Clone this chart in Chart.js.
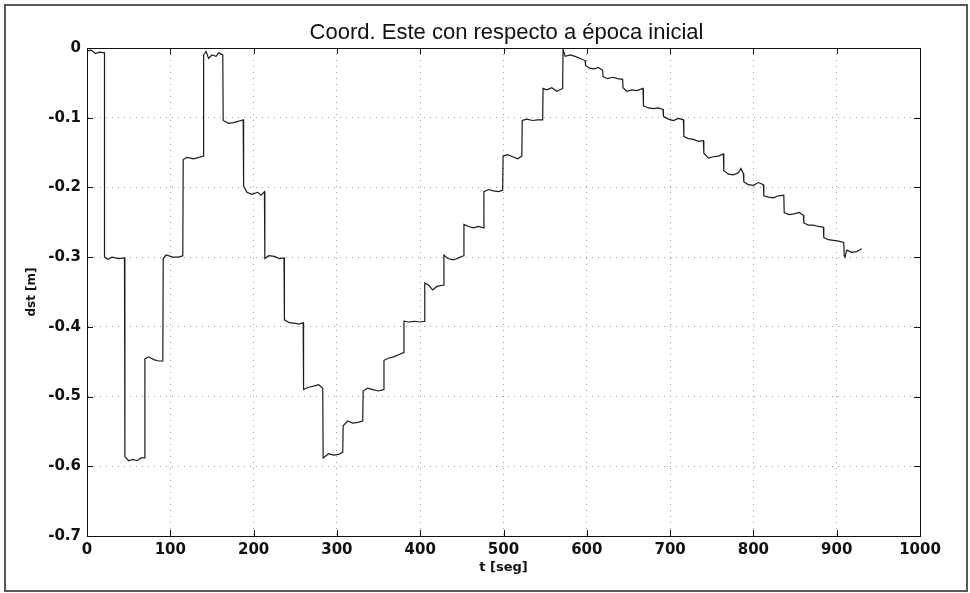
<!DOCTYPE html>
<html lang="es">
<head>
  <meta charset="UTF-8" />
  <title>Coord. Este con respecto a época inicial</title>
  <script src="https://cdn.jsdelivr.net/npm/chart.js@4.4.0/dist/chart.umd.min.js"></script>
  <style>
    * { margin: 0; padding: 0; box-sizing: border-box; }
    body { background: #ffffff; width: 970px; height: 593px; overflow: hidden; }
  </style>
</head>
<body>
  <canvas id="chart" width="970" height="593"></canvas>

  <script>
    // Labels
    const chartTitle = 'Coord. Este con respecto a época inicial';
    const xLabel = 't [seg]';
    const yLabel = 'dst [m]';

    // Tick values
    const xTicks = [0, 100, 200, 300, 400, 500, 600, 700, 800, 900, 1000];
    const yTicks = [0, -0.1, -0.2, -0.3, -0.4, -0.5, -0.6, -0.7];

    // Series: time (s) and east offset (m), one line per step
    const tSeg = [
      0, 5, 10, 15, 21,
      21, 25, 30, 38, 45,
      45.5, 50, 55, 60, 65, 69,
      69.5, 74, 80, 86, 91,
      91.5, 95, 103, 110, 115,
      115.5, 120, 128, 134, 139.5,
      140, 143, 146, 150, 155, 158, 163,
      163.5, 170, 176, 182, 187.5,
      188, 192, 198, 205, 209, 213,
      213.5, 218, 225, 231, 236.5,
      237, 243, 250, 255, 259.5,
      260, 265, 272, 278, 283,
      283.5, 290, 296, 302, 307,
      307.5, 313, 319, 325, 331,
      331.5, 337, 343, 350, 356,
      356.5, 362, 368, 374, 380,
      380.5, 386, 393, 399, 405,
      405.5, 410, 415, 420, 428,
      428.5, 433, 440, 446, 452,
      452.5, 458, 464, 470, 476,
      476.5, 482, 488, 494, 499,
      499.5, 505, 511, 517, 522,
      522.5, 528, 535, 541, 547,
      547.5, 552, 558, 564, 571,
      571.5, 574, 580, 586, 592, 598,
      598.5, 603, 609, 614, 619,
      619.5, 625, 631, 637, 643,
      643.5, 648, 654, 660, 667.5,
      668, 674, 680, 686, 691.5,
      692, 698, 704, 710, 716,
      716.5, 722, 728, 734, 740,
      740.5, 746, 752, 758, 764,
      764.5, 770, 776, 782, 785, 788,
      788.5, 794, 800, 806, 812,
      812.5, 818, 824, 830, 836.5,
      837, 843, 849, 855, 860,
      860.5, 866, 872, 878, 884,
      884.5, 890, 896, 902, 908.5,
      909, 910, 912, 918, 924, 930
    ];
    const dist = [
      -0.004, -0.003, -0.008, -0.006, -0.007,
      -0.300, -0.303, -0.300, -0.302, -0.301,
      -0.586, -0.592, -0.590, -0.592, -0.588, -0.588,
      -0.446, -0.443, -0.447, -0.449, -0.449,
      -0.302, -0.297, -0.300, -0.300, -0.298,
      -0.160, -0.157, -0.159, -0.157, -0.155,
      -0.010, -0.005, -0.015, -0.010, -0.012, -0.007, -0.010,
      -0.104, -0.108, -0.107, -0.105, -0.103,
      -0.198, -0.207, -0.210, -0.207, -0.211, -0.206,
      -0.302, -0.298, -0.299, -0.302, -0.301,
      -0.390, -0.394, -0.395, -0.396, -0.394,
      -0.490, -0.487, -0.485, -0.483, -0.488,
      -0.588, -0.582, -0.584, -0.583, -0.580,
      -0.542, -0.535, -0.538, -0.537, -0.535,
      -0.492, -0.488, -0.490, -0.492, -0.490,
      -0.448, -0.445, -0.443, -0.440, -0.437,
      -0.392, -0.393, -0.392, -0.393, -0.392,
      -0.337, -0.340, -0.347, -0.342, -0.340,
      -0.297, -0.302, -0.304, -0.301, -0.298,
      -0.253, -0.256, -0.258, -0.256, -0.258,
      -0.206, -0.203, -0.205, -0.206, -0.204,
      -0.155, -0.153, -0.156, -0.159, -0.155,
      -0.104, -0.102, -0.104, -0.103, -0.103,
      -0.058, -0.060, -0.057, -0.062, -0.058,
      -0.002, -0.012, -0.010, -0.012, -0.015, -0.018,
      -0.025, -0.029, -0.030, -0.028, -0.032,
      -0.041, -0.044, -0.042, -0.044, -0.045,
      -0.057, -0.062, -0.060, -0.061, -0.058,
      -0.083, -0.086, -0.087, -0.086, -0.088,
      -0.098, -0.102, -0.104, -0.101, -0.103,
      -0.127, -0.130, -0.131, -0.134, -0.133,
      -0.151, -0.158, -0.156, -0.155, -0.152,
      -0.176, -0.181, -0.182, -0.179, -0.173, -0.180,
      -0.192, -0.196, -0.197, -0.193, -0.196,
      -0.212, -0.214, -0.215, -0.212, -0.211,
      -0.236, -0.239, -0.238, -0.236, -0.240,
      -0.251, -0.254, -0.254, -0.256, -0.257,
      -0.272, -0.275, -0.276, -0.277, -0.279,
      -0.298, -0.300, -0.290, -0.293, -0.292, -0.288
    ];

    const tickFont = { family: '"DejaVu Sans", sans-serif', size: 15, weight: 'bold' };
    const labelFont = { family: '"DejaVu Sans", sans-serif', size: 13, weight: 'bold' };

    // figure frame, title, box and inward ticks (MATLAB style)
    const matlabFrame = {
      id: 'matlabFrame',
      beforeDraw(chart) {
        const ctx = chart.ctx;
        ctx.save();
        ctx.fillStyle = '#ffffff';
        ctx.fillRect(0, 0, chart.width, chart.height);
        ctx.restore();
      },
      afterDraw(chart) {
        const ctx = chart.ctx;
        const a = chart.chartArea;
        const xs = chart.scales.x;
        const ys = chart.scales.y;
        ctx.save();
        // outer frame of the figure
        ctx.strokeStyle = '#5a5a5a';
        ctx.lineWidth = 2;
        ctx.strokeRect(5, 5, 962, 586);
        // axes box
        ctx.strokeStyle = '#111111';
        ctx.lineWidth = 1;
        ctx.strokeRect(a.left + 0.5, a.top + 0.5, a.right - a.left, a.bottom - a.top);
        // inward ticks
        ctx.beginPath();
        xTicks.forEach(v => {
          const px = Math.round(xs.getPixelForValue(v)) + 0.5;
          ctx.moveTo(px, a.bottom); ctx.lineTo(px, a.bottom - 6);
          ctx.moveTo(px, a.top); ctx.lineTo(px, a.top + 6);
        });
        yTicks.forEach(v => {
          const py = Math.round(ys.getPixelForValue(v)) + 0.5;
          ctx.moveTo(a.left, py); ctx.lineTo(a.left + 6, py);
          ctx.moveTo(a.right, py); ctx.lineTo(a.right - 6, py);
        });
        ctx.stroke();
        // title
        ctx.fillStyle = '#111111';
        ctx.font = '22px "Liberation Sans", Arial, sans-serif';
        ctx.textAlign = 'center';
        ctx.textBaseline = 'alphabetic';
        ctx.fillText(chartTitle, (a.left + a.right) / 2 + 3, 39);
        ctx.restore();
      }
    };

    const ctx = document.getElementById('chart').getContext('2d');
    const chart = new Chart(ctx, {
      type: 'line',
      data: {
        datasets: [{
          data: tSeg.map((t, i) => ({ x: t, y: dist[i] })),
          borderColor: '#1c1c1c',
          borderWidth: 1.2,
          pointRadius: 0,
          tension: 0,
          fill: false
        }]
      },
      options: {
        responsive: false,
        animation: false,
        layout: { padding: { top: 48, right: 50, left: 0, bottom: 0 } },
        plugins: {
          legend: { display: false },
          title: { display: false },
          tooltip: { enabled: false }
        },
        scales: {
          x: {
            type: 'linear',
            min: 0,
            max: 1000,
            afterFit: s => { s.height = 57; },
            afterBuildTicks: s => { s.ticks = xTicks.map(v => ({ value: v })); },
            ticks: {
              font: tickFont,
              color: '#111111',
              padding: 5,
              maxRotation: 0,
              callback: v => String(v)
            },
            grid: { color: '#a0a0a0', lineWidth: 1, drawTicks: false },
            border: { display: true, color: '#111111', dash: [1, 5] },
            title: {
              display: true,
              text: xLabel,
              font: labelFont,
              color: '#111111',
              padding: { top: 0, bottom: 18 }
            }
          },
          y: {
            type: 'linear',
            min: -0.7,
            max: 0,
            afterFit: s => { s.width = 87; },
            afterBuildTicks: s => { s.ticks = yTicks.map(v => ({ value: v })); },
            ticks: {
              font: tickFont,
              color: '#111111',
              padding: 6,
              callback: v => (Math.abs(v) < 1e-9 ? '0' : v.toFixed(1))
            },
            grid: { color: '#a0a0a0', lineWidth: 1, drawTicks: false },
            border: { display: true, color: '#111111', dash: [1, 5] },
            title: {
              display: true,
              text: yLabel,
              font: { family: '"DejaVu Sans", sans-serif', size: 12, weight: 'bold' },
              color: '#111111',
              padding: { top: 25, bottom: 0 }
            }
          }
        }
      },
      plugins: [matlabFrame]
    });
  </script>
</body>
</html>
